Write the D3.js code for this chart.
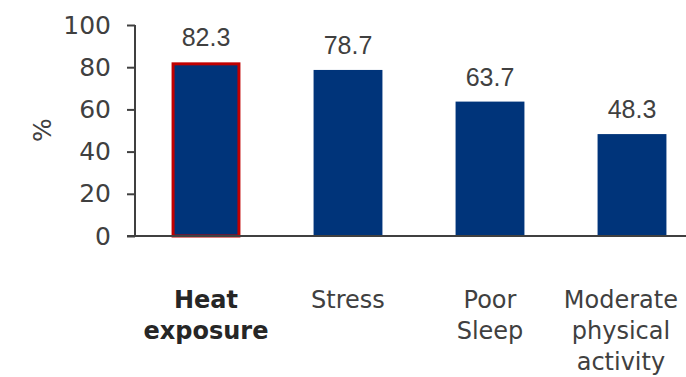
<!DOCTYPE html>
<html>
<head>
<meta charset="utf-8">
<script src="https://cdn.jsdelivr.net/npm/d3@7"></script>
<style>
  html, body { margin: 0; padding: 0; background: #fff; }
</style>
</head>
<body>
<div id="chart"></div>
<script>
// data
const categories = [
  ["Heat", "exposure"],
  ["Stress"],
  ["Poor", "Sleep"],
  ["Moderate", "physical", "activity"]
];
const values = [82.3, 78.7, 63.7, 48.3];
const highlighted = [true, false, false, false];
const yTicks = [0, 20, 40, 60, 80, 100];

const width = 686,
  height = 377,
  barFill = "#00347a",
  highlightStroke = "#c00000",
  textColor = "#404040",
  axisColor = "#404040",
  axisFont = "'DejaVu Sans', Verdana, sans-serif",
  valueFont = "'Liberation Sans', Arial, sans-serif";

const svg = d3
  .select("#chart")
  .append("svg")
  .attr("width", width)
  .attr("height", height)
  .attr("viewBox", [0, 0, width, height]);

const x = d3
  .scaleBand()
  .domain(d3.range(values.length))
  .range([135, 703])
  .paddingInner(0.515)
  .paddingOuter(0.2575);

const y = d3.scaleLinear().domain([0, 100]).range([236, 25]);

// bars
svg
  .append("g")
  .selectAll("rect")
  .data(values)
  .join("rect")
  .attr("x", (d, i) => x(i) + (highlighted[i] ? 1.5 : 0))
  .attr("y", (d, i) => y(d) + (highlighted[i] ? 1.5 : 0))
  .attr("width", (d, i) => x.bandwidth() - (highlighted[i] ? 3 : 0))
  .attr("height", (d, i) => y(0) - y(d) - (highlighted[i] ? 1.5 : 0))
  .attr("fill", barFill)
  .attr("stroke", (d, i) => (highlighted[i] ? highlightStroke : "none"))
  .attr("stroke-width", 3);

// value labels
svg
  .append("g")
  .attr("font-family", valueFont)
  .attr("font-size", 25)
  .attr("fill", textColor)
  .attr("text-anchor", "middle")
  .selectAll("text")
  .data(values)
  .join("text")
  .attr("x", (d, i) => x(i) + x.bandwidth() / 2)
  .attr("y", (d) => y(d) - 16)
  .text((d) => d.toFixed(1));

// y axis
const yAxis = svg
  .append("g")
  .attr("transform", "translate(135,0)")
  .call(d3.axisLeft(y).tickValues(yTicks).tickSize(8).tickPadding(16));

yAxis.select(".domain").attr("stroke", axisColor).attr("stroke-width", 2).attr("d", "M0,25V236");
yAxis.selectAll(".tick line").attr("stroke", axisColor).attr("stroke-width", 2);
yAxis
  .selectAll(".tick text")
  .attr("font-family", axisFont)
  .attr("font-size", 25)
  .attr("fill", textColor);

// x axis baseline
svg
  .append("line")
  .attr("x1", 127)
  .attr("x2", width)
  .attr("y1", y(0))
  .attr("y2", y(0))
  .attr("stroke", axisColor)
  .attr("stroke-width", 2);

// y title
svg
  .append("text")
  .attr("transform", "translate(51,130) rotate(-90)")
  .attr("text-anchor", "middle")
  .attr("font-family", axisFont)
  .attr("font-size", 25)
  .attr("fill", textColor)
  .text("%");

// category labels
const cat = svg
  .append("g")
  .attr("font-family", axisFont)
  .attr("font-size", 24)
  .attr("fill", textColor)
  .attr("text-anchor", "middle")
  .selectAll("text")
  .data(categories)
  .join("text")
  .attr("x", (d, i) => x(i) + x.bandwidth() / 2)
  .attr("y", 308)
  .attr("font-weight", (d, i) => (highlighted[i] ? "bold" : "normal"))
  .attr("fill", (d, i) => (highlighted[i] ? "#262626" : textColor));

cat
  .selectAll("tspan")
  .data((d) => d)
  .join("tspan")
  .attr("x", function () {
    return this.parentNode.getAttribute("x");
  })
  .attr("dy", (d, i) => (i === 0 ? 0 : 31))
  .text((d) => d);

// keep labels inside the right edge
cat.each(function () {
  const box = this.getBBox();
  const over = box.x + box.width - (width - 8);
  if (over > 0) {
    const nx = +this.getAttribute("x") - over;
    d3.select(this).attr("x", nx).selectAll("tspan").attr("x", nx);
  }
});
</script>
</body>
</html>
